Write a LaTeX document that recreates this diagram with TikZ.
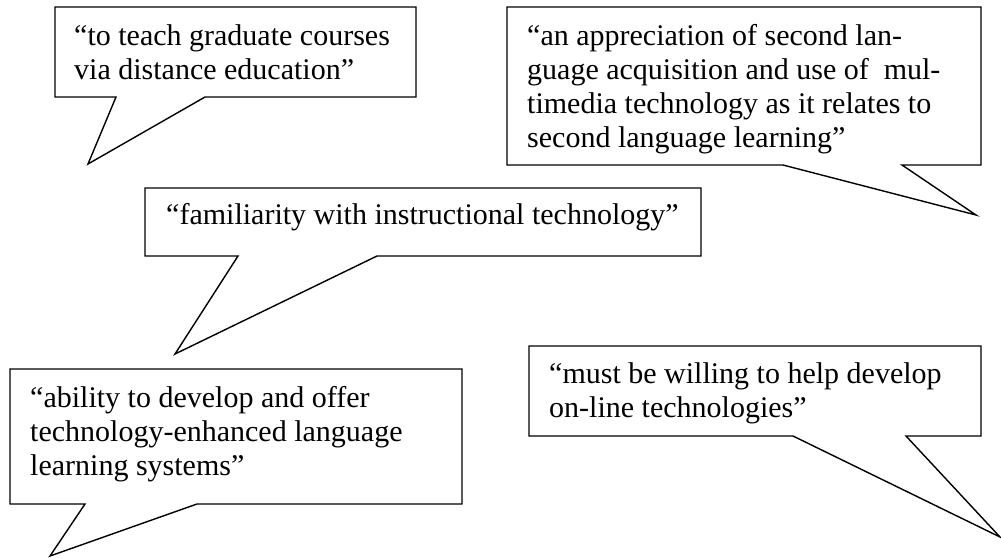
\documentclass[tikz,border=0pt]{standalone}
\usepackage{fontspec}
\setmainfont{Liberation Serif}
\tikzset{
  callout/.style={draw=black, line width=1.4pt, fill=white, line join=miter},
  quote/.style={anchor=base west, inner sep=0pt, font=\fontsize{30}{34.3}\selectfont}
}
\newcommand{\qlines}[1]{\parbox[t]{800pt}{\raggedright #1}}
\begin{document}
\begin{tikzpicture}[x=1pt,y=-1pt]
\useasboundingbox (0,0) rectangle (1001,558);
% callout 1
\draw[callout] (55,7) -- (416,7) -- (416,97) -- (205,97) -- (88,164) -- (116,97) -- (55,97) -- cycle;
\node[quote] (q1) at (74,45) {\qlines{“to teach graduate courses\\via distance education”}};
% callout 2
\draw[callout] (507,7) -- (981,7) -- (981,165) -- (902,165) -- (976,215) -- (783,165) -- (507,165) -- cycle;
\node[quote] (q2) at (527,45) {\qlines{“an appreciation of second lan-\\guage acquisition and use of\ \ mul-\\timedia technology as it relates to\\second language learning”}};
% callout 3
\draw[callout] (145,188) -- (701,188) -- (701,256) -- (377,256) -- (175,354) -- (238,256) -- (145,256) -- cycle;
\node[quote] (q3) at (166,224) {\qlines{“familiarity with instructional technology”}};
% callout 4
\draw[callout] (10,369) -- (462,369) -- (462,504) -- (197,504) -- (50,556) -- (85,504) -- (10,504) -- cycle;
\node[quote] (q4) at (30,407) {\qlines{“ability to develop and offer\\technology-enhanced language\\learning systems”}};
% callout 5
\draw[callout] (529,346) -- (981,346) -- (981,436) -- (906,436) -- (1000,537) -- (793,436) -- (529,436) -- cycle;
\node[quote] (q5) at (549,383) {\qlines{“must be willing to help develop\\on-line technologies”}};
\end{tikzpicture}
\end{document}
